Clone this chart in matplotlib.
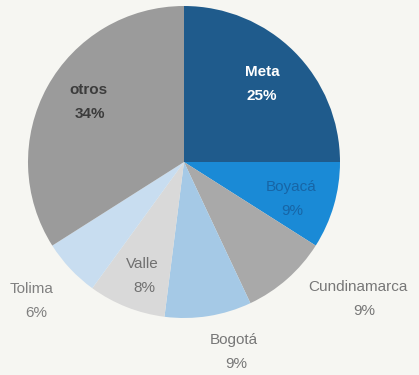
import matplotlib
matplotlib.use("Agg")
import matplotlib.pyplot as plt

regions = ["Meta", "Boyacá", "Cundinamarca", "Bogotá", "Valle", "Tolima", "otros"]
shares = [25, 9, 9, 9, 8, 6, 34]
colors = ["#1f5b8c", "#1a8ad6", "#a9a9a9", "#a5c9e6", "#d9d9d9", "#c8ddf0", "#9b9b9b"]

W, H = 419, 375
fig = plt.figure(figsize=(W / 100, H / 100), dpi=100)
fig.patch.set_facecolor("#f6f6f2")
ax = fig.add_axes([0, 0, 1, 1])

cx, cy, r = 184, H - 162, 156
ax.pie(shares, colors=colors, startangle=90, counterclock=False,
       center=(cx, cy), radius=r, frame=True,
       wedgeprops=dict(linewidth=0))
ax.set_xlim(0, W)
ax.set_ylim(0, H)
ax.set_aspect("equal")
ax.axis("off")

# name x, name y (from top), percent x, text colour, weight
label_pos = {
    "Meta": (262, 72, 262, "white", "bold"),
    "Boyacá": (291, 187, 292, "#1765a6", "normal"),
    "Cundinamarca": (358, 287, 364, "#777777", "normal"),
    "Bogotá": (234, 340, 236, "#777777", "normal"),
    "Valle": (142, 264, 144, "#707070", "normal"),
    "Tolima": (32, 289, 36, "#808080", "normal"),
    "otros": (88, 90, 90, "#3c3c3c", "bold"),
}
gap = 24
for name, val in zip(regions, shares):
    x, y, px, c, w = label_pos[name]
    ax.text(x, H - y, name, ha="center", va="center", color=c,
            fontweight=w, fontsize=11, family="Liberation Sans")
    ax.text(px, H - y - gap, f"{val}%", ha="center", va="center", color=c,
            fontweight=w, fontsize=11, family="Liberation Sans")

fig.savefig("out.png", dpi=100, facecolor=fig.get_facecolor())
